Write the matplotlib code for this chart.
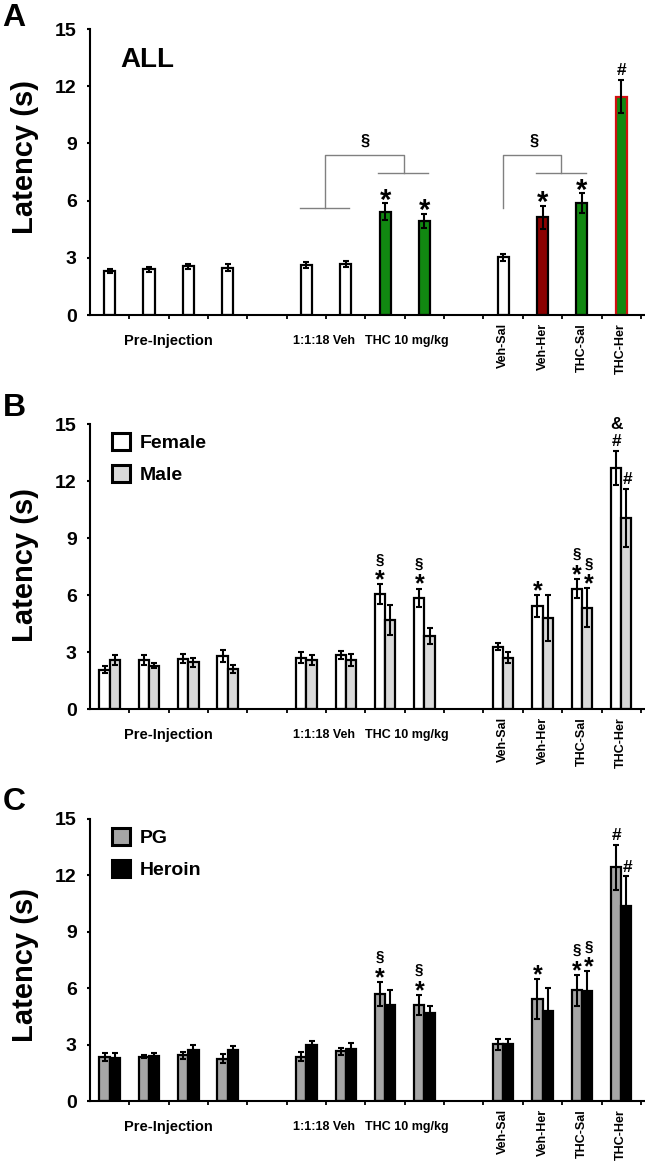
import matplotlib
matplotlib.use("Agg")
import matplotlib.pyplot as plt
from matplotlib.patches import Patch
import numpy as np

plt.rcParams['font.family'] = ['Liberation Sans', 'DejaVu Sans']
plt.rcParams['font.weight'] = 'bold'

# category slots: 0-3 pre-injection, 4 gap, 5-6 vehicle, 7-8 THC, 9 gap, 10-13 combos
slots = [0, 1, 2, 3, 5, 6, 7, 8, 10, 11, 12, 13]

# Panel A - all animals
all_mean = [2.31, 2.40, 2.55, 2.49, 2.62, 2.68, 5.43, 4.94, 3.03, 5.13, 5.86, 11.46]
all_sem = [0.12, 0.12, 0.12, 0.17, 0.17, 0.18, 0.43, 0.37, 0.17, 0.60, 0.52, 0.85]
all_face = ['white'] * 6 + ['#118811', '#118811', 'white', '#8b0000', '#118811', '#118811']
all_edge = ['black'] * 11 + ['#d01010']
all_marks = {6: '*', 7: '*', 9: '*', 10: '*', 11: '#'}

# Panel B - sex
fem_mean = [2.07, 2.59, 2.66, 2.80, 2.71, 2.84, 6.04, 5.86, 3.29, 5.41, 6.34, 12.69]
fem_sem = [0.17, 0.26, 0.23, 0.32, 0.27, 0.22, 0.52, 0.48, 0.18, 0.59, 0.49, 0.88]
male_mean = [2.59, 2.28, 2.45, 2.10, 2.57, 2.59, 4.69, 3.82, 2.71, 4.80, 5.34, 10.06]
male_sem = [0.26, 0.12, 0.26, 0.21, 0.27, 0.30, 0.77, 0.42, 0.27, 1.20, 1.01, 1.53]
fem_marks = {6: '*§', 7: '*§', 9: '*', 10: '*§', 11: '#&'}
male_marks = {10: '*§', 11: '#'}

# Panel C - treatment group
pg_mean = [2.34, 2.36, 2.43, 2.25, 2.36, 2.64, 5.70, 5.10, 3.01, 5.44, 5.88, 12.43]
pg_sem = [0.23, 0.08, 0.17, 0.23, 0.24, 0.19, 0.62, 0.53, 0.30, 1.06, 0.83, 1.21]
her_mean = [2.30, 2.39, 2.71, 2.71, 2.98, 2.78, 5.10, 4.69, 3.01, 4.78, 5.84, 10.36]
her_sem = [0.27, 0.14, 0.25, 0.21, 0.24, 0.32, 0.78, 0.39, 0.27, 1.24, 1.05, 1.59]
pg_marks = {6: '*§', 7: '*§', 9: '*', 10: '*§', 11: '#'}
her_marks = {10: '*§', 11: '#'}

group_labels = ['Pre-Injection', '1:1:18 Veh', 'THC 10 mg/kg']
group_pos = [1.5, 5.45, 7.55]
group_size = [10.5, 9, 9]
combo_labels = ['Veh-Sal', 'Veh-Her', 'THC-Sal', 'THC-Her']
combo_pos = [10, 11, 12, 13]

fig = plt.figure(figsize=(6.45, 11.66), dpi=100)
left, width = 0.1395, 0.859
axA = fig.add_axes([left, 0.7298, width, 0.2453])
axB = fig.add_axes([left, 0.3919, width, 0.2444])
axC = fig.add_axes([left, 0.0557, width, 0.2419])

def style(ax):
    ax.set_xlim(-0.5, 13.58)
    ax.set_ylim(0, 15)
    ax.set_yticks(range(0, 16, 3))
    ax.set_xticks(np.arange(0.5, 13.6, 1.0))
    ax.set_xticklabels([])
    for s in ['top', 'right']:
        ax.spines[s].set_visible(False)
    for s in ['left', 'bottom']:
        ax.spines[s].set_linewidth(1.5)
    ax.tick_params(axis='y', direction='out', length=2.5, width=1.5, pad=7, labelsize=14)
    ax.tick_params(axis='x', direction='out', length=3, width=1.3)
    for t in ax.get_yticklabels():
        t.set_fontweight('bold')
    tr = ax.get_xaxis_transform()
    for lab, p, fs in zip(group_labels, group_pos, group_size):
        ax.text(p, -0.092, lab, transform=tr, ha='center', va='center', fontsize=fs, fontweight='bold')
    for lab, p in zip(combo_labels, combo_pos):
        ax.text(p, -0.028, lab, transform=tr, ha='center', va='top', rotation=90,
                fontsize=9, fontweight='bold')

# symbol: (font size, glyph centre above baseline in em, gap in px to previous centre)
sym = {'*': (18, 0.56, 11), '§': (11, 0.26, 14), '#': (12.5, 0.355, 11), '&': (12.5, 0.36, 17)}

def marks(ax, xs, tops, mk, dx=0.0, star=18):
    for i, txt in mk.items():
        c = 0.0
        for ch in txt:
            fs, cen, gap = sym[ch]
            if ch == '*':
                fs = star
            c += gap
            dy = c * 0.72 - cen * fs
            ax.annotate(ch, xy=(xs[i] + dx, tops[i]), xytext=(0, dy), textcoords='offset points',
                        ha='center', va='baseline', fontsize=fs, fontweight='bold')

ebar = dict(ecolor='black', elinewidth=1.5, capsize=2.5, capthick=1.5)

# A
x = np.array(slots, dtype=float)
axA.bar(x, all_mean, width=0.28, color=all_face, edgecolor=all_edge, linewidth=1.6,
        yerr=all_sem, error_kw=ebar, zorder=2)
topsA = np.array(all_mean) + np.array(all_sem)
marks(axA, x, topsA, all_marks, star=21)
gray = '#808080'
# bracket: vehicle vs THC
axA.plot([4.84, 6.09], [5.6, 5.6], color=gray, lw=1)
axA.plot([5.47, 5.47, 7.48, 7.48], [5.6, 8.4, 8.4, 7.44], color=gray, lw=1)
axA.plot([6.82, 8.1], [7.44, 7.44], color=gray, lw=1)
axA.text(6.48, 9.1, '§', ha='center', va='center', fontsize=12, fontweight='bold')
# bracket: Veh-Sal vs Veh-Her / THC-Sal
axA.plot([10, 10, 11.48, 11.48], [5.6, 8.4, 8.4, 7.44], color=gray, lw=1)
axA.plot([10.83, 12.1], [7.44, 7.44], color=gray, lw=1)
axA.text(10.78, 9.1, '§', ha='center', va='center', fontsize=12, fontweight='bold')
axA.text(0.26, 13.37, 'ALL', ha='left', va='center', fontsize=20, fontweight='bold')
style(axA)

def paired(ax, m1, s1, m2, s2, c1, c2, mk1, mk2, names):
    w = 0.26
    ax.bar(x - w / 2, m1, width=w, color=c1, edgecolor='black', linewidth=1.6,
           yerr=s1, error_kw=ebar, zorder=2, label=names[0])
    ax.bar(x + w / 2, m2, width=w, color=c2, edgecolor='black', linewidth=1.6,
           yerr=s2, error_kw=ebar, zorder=2, label=names[1])
    marks(ax, x - w / 2, np.array(m1) + np.array(s1), mk1)
    marks(ax, x + w / 2, np.array(m2) + np.array(s2), mk2, dx=0.04)
    h = [Patch(facecolor=c1, edgecolor='black', linewidth=2.2),
         Patch(facecolor=c2, edgecolor='black', linewidth=2.2)]
    ax.legend(h, names, loc='upper left', bbox_to_anchor=(0.009, 1.03), frameon=False,
              handlelength=0.9, handleheight=1.0, handletextpad=0.5, labelspacing=0.65,
              prop={'size': 14, 'weight': 'bold'})
    style(ax)

paired(axB, fem_mean, fem_sem, male_mean, male_sem, 'white', '#d9d9d9',
       fem_marks, male_marks, ['Female', 'Male'])
paired(axC, pg_mean, pg_sem, her_mean, her_sem, '#a6a6a6', 'black',
       pg_marks, her_marks, ['PG', 'Heroin'])

H = 1166.0
for letter, ly, yl in zip('ABC', [18, 408, 802], [157, 565, 965]):
    fig.text(0.004, 1 - ly / H, letter, ha='left', va='center', fontsize=23, fontweight='bold')
    fig.text(0.038, 1 - yl / H, 'Latency (s)', rotation=90, ha='center', va='center',
             fontsize=21, fontweight='bold')

fig.savefig('out.png', dpi=100)
